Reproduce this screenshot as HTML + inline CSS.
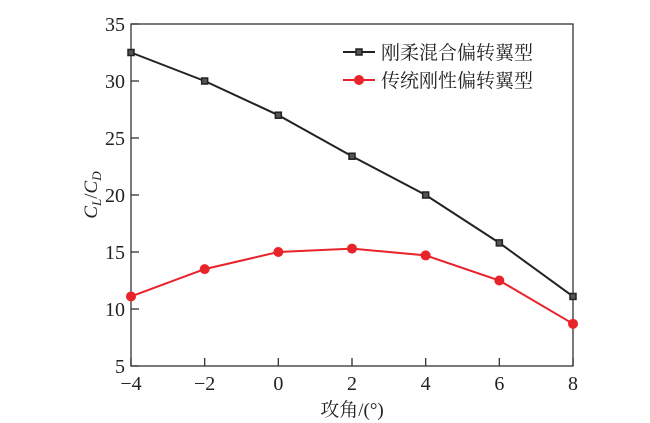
<!DOCTYPE html>
<html><head><meta charset="utf-8"><style>body{margin:0;background:#fff}svg{display:block}text{font-family:"Liberation Serif","Noto Serif CJK SC",serif;fill:#222}</style></head>
<body>
<svg id="chart" width="650" height="423" xmlns="http://www.w3.org/2000/svg">
<rect x="131" y="24" width="442" height="342" fill="none" stroke="#333" stroke-width="1.3"/>
<g id="axes"></g><g id="series"></g>
<text x="352" y="416" font-size="19" text-anchor="middle">攻角/(°)</text>
<text transform="translate(97,195) rotate(-90)" font-size="19" font-style="italic" text-anchor="middle">C<tspan font-size="13" dy="4">L</tspan><tspan dy="-4" font-style="normal">/</tspan>C<tspan font-size="13" dy="4">D</tspan></text>
<g>
<line x1="343" y1="52" x2="375" y2="52" stroke="#222" stroke-width="2"/><rect x="356" y="49" width="6" height="6" fill="#555" stroke="#222" stroke-width="1.5"/>
<text x="381" y="59" font-size="19">刚柔混合偏转翼型</text>
<line x1="343" y1="80" x2="375" y2="80" stroke="#e8232a" stroke-width="2"/><circle cx="359" cy="80" r="5" fill="#e8232a"/>
<text x="381" y="87" font-size="19">传统刚性偏转翼型</text>
</g>
</svg>
<script>
const xCats=[-4,-2,0,2,4,6,8];
const hybridVals=[32.5,30,27,23.4,20,15.8,11.1];
const rigidVals=[11.1,13.5,15,15.3,14.7,12.5,8.7];
const yTicks=[5,10,15,20,25,30,35];
const ns="http://www.w3.org/2000/svg";
const X=v=>131+(v+4)*(442/12), Y=v=>366-(v-5)*(342/30);
const ax=document.getElementById('axes'), se=document.getElementById('series');
function mk(t,a,p){const e=document.createElementNS(ns,t);for(const k in a)e.setAttribute(k,a[k]);p.appendChild(e);return e;}
xCats.forEach(v=>{
 const l=mk('line',{x1:X(v),x2:X(v),y1:366,y2:358,stroke:'#333','stroke-width':1.3},ax);
 
 
 const t=mk('text',{x:X(v),y:390,'font-size':20,'text-anchor':'middle'},ax);t.textContent=v<0?'−'+(-v):v;
 
 
});
yTicks.forEach(v=>{
 const l=mk('line',{x1:131,x2:139,y1:Y(v),y2:Y(v),stroke:'#333','stroke-width':1.3},ax);
 
 
 const t=mk('text',{x:125,y:Y(v)+7,'font-size':20,'text-anchor':'end'},ax);t.textContent=v;
 
 
});
function draw(vals,col,sq,name){
 const pl=mk('polyline',{points:vals.map((v,i)=>X(xCats[i])+','+Y(v)).join(' '),fill:'none',stroke:col,'stroke-width':2},se);
 
 
 vals.forEach((v,i)=>{
  const m=sq?mk('rect',{x:X(xCats[i])-3,y:Y(v)-3,width:6,height:6,fill:'#555',stroke:'#222','stroke-width':1.5},se):mk('circle',{cx:X(xCats[i]),cy:Y(v),r:5,fill:col},se);
  
  
 });
}
draw(rigidVals,'#e8232a',false,'rigid');
draw(hybridVals,'#222',true,'hybrid');
</script>
</body></html>
